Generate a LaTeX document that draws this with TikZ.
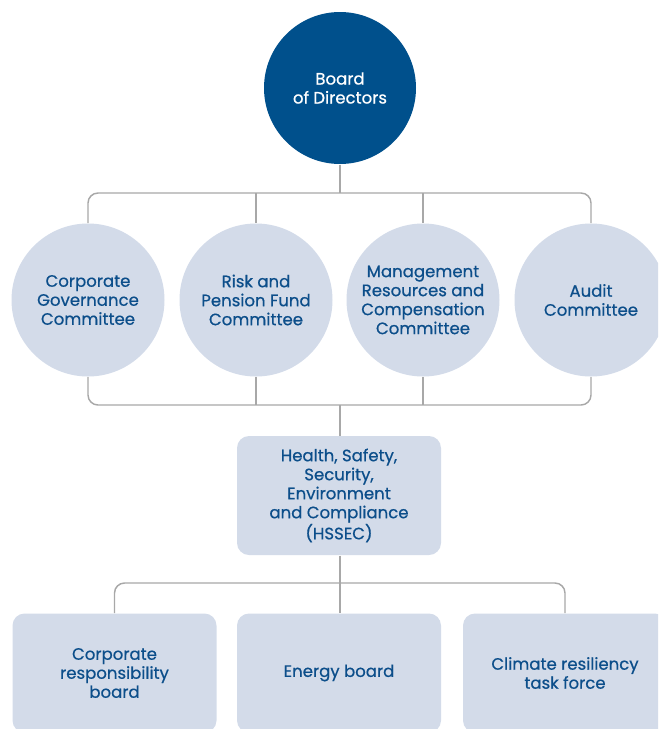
\documentclass[tikz,border=0pt]{standalone}
\usepackage{fontspec}
\setmainfont{Poppins}
\newfontfamily\lblfont{Poppins}[FakeBold=0.6]
\definecolor{boardblue}{RGB}{0,80,140}
\definecolor{cmtfill}{RGB}{211,219,233}
\definecolor{cmttext}{RGB}{12,78,138}
\definecolor{linkgray}{RGB}{168,168,168}

\tikzset{every picture/.style={line width=0.75pt}}

\begin{document}
\begin{tikzpicture}[x=0.75pt,y=0.75pt,yscale=-1,xscale=1,
  lbl/.style={align=center, inner sep=0pt, font=\lblfont\fontsize{12.4}{14.25}\selectfont},
  boardnode/.style={lbl, circle, fill=boardblue, text=white, minimum size=114pt},
  cmt/.style={lbl, circle, fill=cmtfill, text=cmttext, minimum size=114.75pt},
  subbox/.style={lbl, rectangle, rounded corners=9pt, fill=cmtfill, text=cmttext, minimum width=153pt, minimum height=89.25pt},
  link/.style={draw=linkgray, line width=1.1pt},
  bracket/.style={link, rounded corners=7.5pt}]
\useasboundingbox (0,0) rectangle (658,729);
\clip (0,0) rectangle (658,729);

% Board
\node [boardnode] (board) at (340,88) {Board\\of Directors};

% Committees
\node [cmt] (corp) at (88,300) {Corporate\\Governance\\Committee};
\node [cmt] (risk) at (256,300) {Risk and\\Pension Fund\\Committee};
\node [cmt] (mgmt) at (423,300) {Management\\Resources and\\Compensation\\Committee};
\node [cmt] (audit) at (591,300) {Audit\\Committee};

% HSSEC
\node [subbox] (hssec) at (339,495.5) {Health, Safety,\\Security,\\Environment\\and Compliance\\(HSSEC)};

% Boards under HSSEC
\node [subbox] (corpresp) at (114.5,673) {Corporate\\responsibility\\board};
\node [subbox] (energy) at (339,673) {Energy board};
\node [subbox] (climate) at (565,673) {Climate resiliency\\task force};

% Connectors
\coordinate (topbar) at (340,193);
\coordinate (botbar) at (340,405);
\coordinate (subbar) at (340,583);
\draw [link] (board) -- (topbar);
\draw [bracket] (corp.north) |- (topbar) -| (audit.north);
\draw [link] (risk.north) -- (risk.north |- topbar);
\draw [link] (mgmt.north) -- (mgmt.north |- topbar);
\draw [bracket] (corp.south) |- (botbar) -| (audit.south);
\draw [link] (risk.south) -- (risk.south |- botbar);
\draw [link] (mgmt.south) -- (mgmt.south |- botbar);
\draw [link] (botbar) -- (hssec.north -| botbar);
\draw [link] (hssec.south -| subbar) -- (subbar);
\draw [bracket] (corpresp.north) |- (subbar) -| (climate.north);
\draw [link] (subbar) -- (energy.north -| subbar);

\end{tikzpicture}
\end{document}
